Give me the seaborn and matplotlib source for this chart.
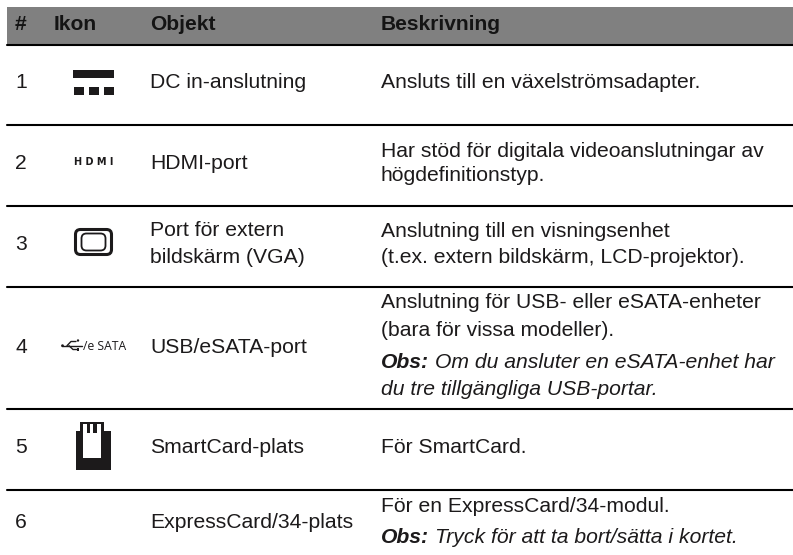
from matplotlib import pyplot as plt
from matplotlib.patches import FancyBboxPatch, Polygon, Rectangle, Circle
import pandas as pd
import seaborn as sns

header = ['#', 'Ikon', 'Objekt', 'Beskrivning']
nummer = ['1', '2', '3', '4', '5', '6']
objekt = ['DC in-anslutning', 'HDMI-port', 'Port för extern\nbildskärm (VGA)',
          'USB/eSATA-port', 'SmartCard-plats', 'ExpressCard/34-plats']
beskrivning = ['Ansluts till en växelströmsadapter.',
               'Har stöd för digitala videoanslutningar av',
               'högdefinitionstyp.',
               'Anslutning till en visningsenhet',
               '(t.ex. extern bildskärm, LCD-projektor).',
               'Anslutning för USB- eller eSATA-enheter',
               '(bara för vissa modeller).',
               'För SmartCard.',
               'För en ExpressCard/34-modul.']
obs_text = ['Om du ansluter en eSATA-enhet har', 'du tre tillgängliga USB-portar.',
            'Tryck för att ta bort/sätta i kortet.']

# layout, in pixels of the page
linjer_y = [45, 125, 206, 287, 408.5, 490]
nummer_y = [88, 169, 250, 353, 453, 528]
objekt_y = [88, 169, 236, 353, 453, 528]
objekt_y2 = 263
beskr_y = [88, 157, 181, 237, 263, 308, 336, 453, 512]
obs_y = [368, 395, 543]

MORK = '#1c1a1b'
sns.set_style('white')
plt.rcParams['font.family'] = ['Liberation Sans', 'DejaVu Sans']

fig = plt.figure(figsize=(7.93, 5.55), dpi=100)
ax = fig.add_axes([0, 0, 1, 1])

text_kw = dict(size=15.2, color=MORK, va='baseline', ha='left')
head_kw = dict(size=15.1, color='#141414', va='baseline', ha='left', weight='bold')

ax.add_patch(Rectangle((7, 7), 786, 37, color='#808080', lw=0))

rader = pd.DataFrame({'x': [7, 793] * len(linjer_y),
                      'y': [y for y in linjer_y for _ in range(2)],
                      'rad': [i for i in range(len(linjer_y)) for _ in range(2)]})
sns.lineplot(data=rader, x='x', y='y', units='rad', estimator=None, color='black',
             linewidth=1.5, ax=ax, legend=False)

ax.set_xlim(0, 793)
ax.set_ylim(555, 0)
ax.set_xlabel('')
ax.set_ylabel('')
ax.axis('off')

for txt, x in zip(header, [15, 54, 150, 381]):
    ax.text(x, 30, txt, **head_kw)

for txt, y in zip(nummer, nummer_y):
    ax.text(15, y, txt, **text_kw)

for txt, y in zip(objekt, objekt_y):
    delar = txt.split('\n')
    ax.text(150, y, delar[0], **text_kw)
    if len(delar) > 1:
        ax.text(150, objekt_y2, delar[1], **text_kw)

for txt, y in zip(beskrivning, beskr_y):
    ax.text(381, y, txt, **text_kw)

fig.canvas.draw()
rend = fig.canvas.get_renderer()
for txt, y in zip(obs_text, obs_y):
    if txt.startswith('du'):
        ax.text(381, y, txt, style='italic', **text_kw)
    else:
        fet = ax.text(381, y, 'Obs:', style='italic', weight='bold', **text_kw)
        b = fet.get_window_extent(rend)
        ax.text(b.x1 + 6, y, txt, style='italic', **text_kw)

# ikon 1, DC
ax.add_patch(Rectangle((73, 70), 41, 8, color=MORK, lw=0))
for x in (74, 89, 104):
    ax.add_patch(Rectangle((x, 87), 10, 8, color=MORK, lw=0))

# ikon 2, HDMI
ax.text(94, 165, 'H D M I', size=7, weight='bold', family='DejaVu Sans', color=MORK,
        ha='center', va='baseline')

# ikon 3, VGA
ax.add_patch(FancyBboxPatch((75.5, 229.5), 36, 25, boxstyle='round,pad=0,rounding_size=5',
                            fc='none', ec=MORK, lw=2.2))
ax.add_patch(FancyBboxPatch((81.5, 233.5), 24, 17, boxstyle='round,pad=0,rounding_size=5',
                            fc='none', ec=MORK, lw=1.3))

# ikon 4, USB/eSATA
ax.add_patch(Circle((62.5, 345.7), 1.4, color=MORK, lw=0))
ax.plot([62, 82], [345.7, 345.7], color=MORK, lw=1)
ax.plot([67, 71, 76], [345.7, 341.5, 341.5], color=MORK, lw=1)
ax.plot([69, 73, 77], [345.7, 349.5, 349.5], color=MORK, lw=1)
ax.add_patch(Circle((78, 340.5), 1.2, color=MORK, lw=0))
ax.add_patch(Rectangle((76.5, 348.3), 2.4, 2.4, color=MORK, lw=0))
ax.text(83, 349.5, '/e SATA', size=8.7, family='Open Sans', color=MORK, va='baseline', ha='left')

# ikon 5, SmartCard
ax.add_patch(Polygon([(76, 430.5), (79.7, 430.5), (79.7, 421.5), (103.7, 421.5), (103.7, 430.5),
                      (111, 430.5), (111, 470), (76, 470)], color=MORK, lw=0))
ax.add_patch(Rectangle((82.7, 424.3), 18, 33.4, color='white', lw=0))
ax.add_patch(Rectangle((87, 424.3), 3.4, 9, color=MORK, lw=0))
ax.add_patch(Rectangle((93.3, 424.3), 3.4, 9, color=MORK, lw=0))

plt.savefig('out.png', dpi=100)
